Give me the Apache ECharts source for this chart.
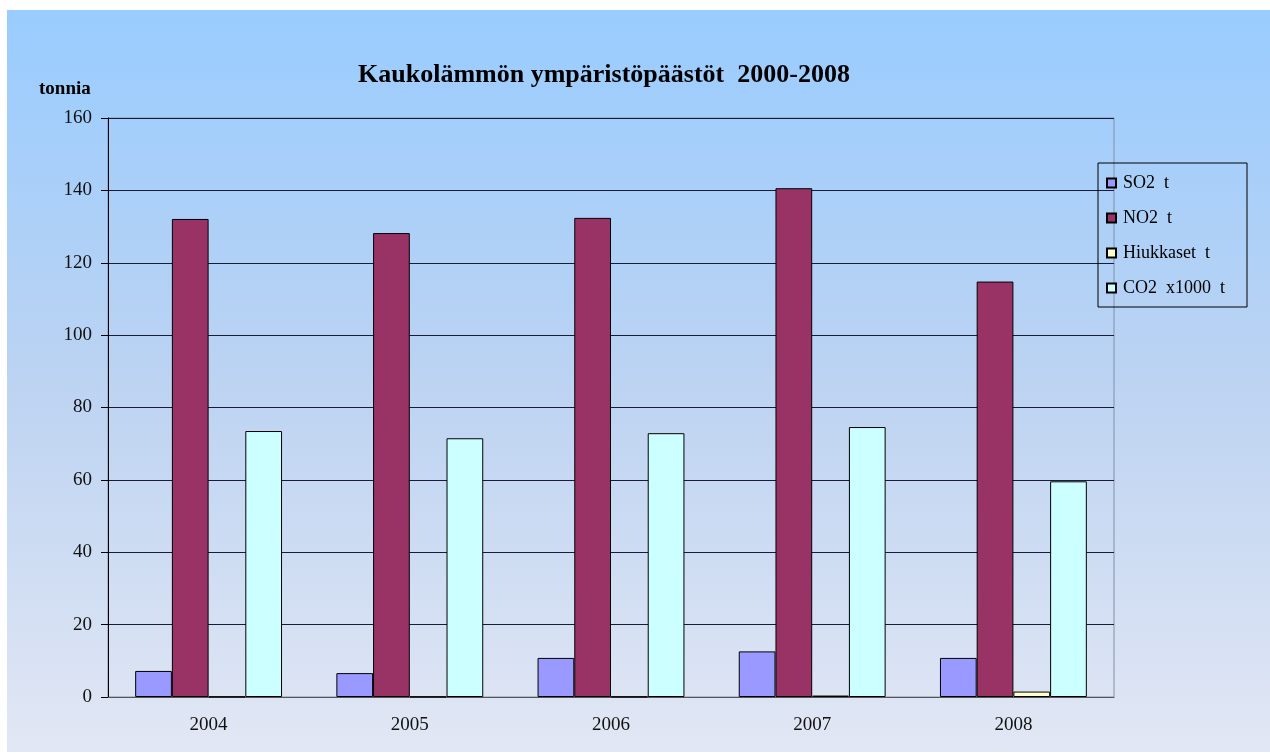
<!DOCTYPE html>
<html>
<head>
<meta charset="utf-8">
<script src="https://cdn.jsdelivr.net/npm/echarts@6/dist/echarts.min.js"></script>
<style>
  html, body { margin: 0; padding: 0; background: #fff; }
  #main { width: 1270px; height: 754px; }
</style>
</head>
<body>
<div id="main"></div>
<script>
// data
var years = ['2004', '2005', '2006', '2007', '2008'];
var so2 = [7.2, 6.6, 10.8, 12.6, 10.8];
var no2 = [132.1, 128.2, 132.4, 140.6, 114.8];
var hiukkaset = [0.1, 0.1, 0.1, 0.4, 1.5];
var co2 = [73.5, 71.5, 72.9, 74.6, 59.6];

var serif = '"Liberation Serif", "Times New Roman", serif';
var myChart = echarts.init(document.getElementById('main'));

function barSeries(name, data, color) {
  return {
    name: name,
    type: 'bar',
    data: data,
    barGap: '0%',
    barCategoryGap: '27%',
    itemStyle: { color: color, borderColor: '#000', borderWidth: 1 }
  };
}

var option = {
  animation: false,
  graphic: [{
    type: 'rect',
    z: -10,
    shape: { x: 7, y: 10, width: 1263, height: 742 },
    style: {
      fill: new echarts.graphic.LinearGradient(0, 0, 0, 1, [
        { offset: 0, color: '#99ccff' },
        { offset: 0.5, color: '#bcd3f2' },
        { offset: 1, color: '#e2e7f4' }
      ])
    }
  }],
  title: [
    {
      text: 'Kaukolämmön ympäristöpäästöt  2000-2008',
      left: 599, top: 57, textAlign: 'center',
      textStyle: { fontFamily: serif, fontWeight: 'bold', fontSize: 26, color: '#000' }
    },
    {
      text: 'tonnia',
      left: 34, top: 75,
      textStyle: { fontFamily: serif, fontWeight: 'bold', fontSize: 19, color: '#000' }
    }
  ],
  legend: {
    orient: 'vertical',
    left: 1098, top: 163,
    padding: [11, 22, 10, 8],
    itemGap: 17,
    itemWidth: 9, itemHeight: 9,
    icon: 'rect',
    borderColor: '#000', borderWidth: 1,
    textStyle: { fontFamily: serif, fontSize: 18, color: '#000', padding: [0, 0, 0, 2] },
    data: ['SO2  t', 'NO2  t', 'Hiukkaset  t', 'CO2  x1000  t']
  },
  grid: {
    left: 108, top: 118, width: 1006, height: 579,
    show: true, borderColor: '#8090a8', borderWidth: 1, backgroundColor: 'transparent'
  },
  xAxis: {
    type: 'category',
    data: years,
    axisLine: { lineStyle: { color: '#555', width: 1 } },
    axisTick: { length: 7, lineStyle: { color: '#333' } },
    axisLabel: { fontFamily: serif, fontSize: 19, color: '#111', margin: 19 }
  },
  yAxis: {
    type: 'value',
    min: 0, max: 160, interval: 20,
    axisLine: { show: true, lineStyle: { color: '#000', width: 1 } },
    axisTick: { show: true, length: 7, lineStyle: { color: '#000' } },
    axisLabel: { fontFamily: serif, fontSize: 19, color: '#111', margin: 16 },
    splitLine: { lineStyle: { color: '#1a1a3a', width: 1 } }
  },
  series: [
    barSeries('SO2  t', so2, '#9999ff'),
    barSeries('NO2  t', no2, '#993366'),
    barSeries('Hiukkaset  t', hiukkaset, '#ffffcc'),
    barSeries('CO2  x1000  t', co2, '#ccffff')
  ]
};

myChart.setOption(option);
</script>
</body>
</html>
